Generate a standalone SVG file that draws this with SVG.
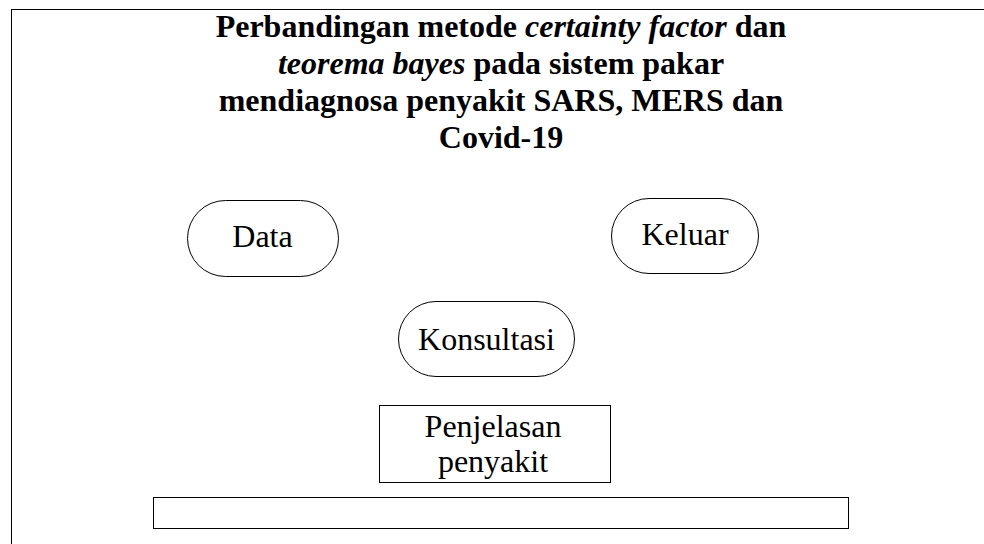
<svg xmlns="http://www.w3.org/2000/svg" width="984" height="544" viewBox="0 0 984 544">
  <style>
    .frame { fill: none; stroke: #000; stroke-width: 1; }
    .shape { fill: #fff; stroke: #000; stroke-width: 1; }
    .title { font-family: "Liberation Serif", "Times New Roman", serif; font-size: 32px; font-weight: bold; fill: #000; text-anchor: middle; }
    .title .it { font-style: italic; }
    .label { font-family: "Liberation Serif", "Times New Roman", serif; font-size: 32px; fill: #000; text-anchor: middle; }
  </style>
  <rect width="984" height="544" fill="#fff"/>
  <!-- outer frame, open on the right and bottom -->
  <rect class="frame" x="11.5" y="9.5" width="1000" height="600"/>

  <g id="title">
    <text class="title" x="501" y="37">Perbandingan metode <tspan class="it">certainty factor</tspan> dan</text>
    <text class="title" x="501" y="74"><tspan class="it">teorema bayes</tspan> pada sistem pakar</text>
    <text class="title" x="501" y="111">mendiagnosa penyakit SARS, MERS dan</text>
    <text class="title" x="501" y="148">Covid-19</text>
  </g>

  <g id="connectors"></g>

  <g id="data">
    <rect class="shape" x="187.5" y="200.5" width="151" height="76" rx="38" ry="38"/>
    <text class="label" x="262.5" y="247">Data</text>
  </g>

  <g id="keluar">
    <rect class="shape" x="611.5" y="198.5" width="147" height="75" rx="37.5" ry="37.5"/>
    <text class="label" x="685" y="245">Keluar</text>
  </g>

  <g id="konsultasi">
    <rect class="shape" x="398.5" y="301.5" width="176" height="75" rx="37.5" ry="37.5"/>
    <text class="label" x="486.5" y="350">Konsultasi</text>
  </g>

  <g id="penjelasan">
    <rect class="shape" x="379.5" y="405.5" width="231" height="77"/>
    <text class="label" x="493" y="437">Penjelasan</text>
    <text class="label" x="493" y="472">penyakit</text>
  </g>

  <g id="bar">
    <rect class="shape" x="153.5" y="497.5" width="695" height="31"/>
  </g>
</svg>
